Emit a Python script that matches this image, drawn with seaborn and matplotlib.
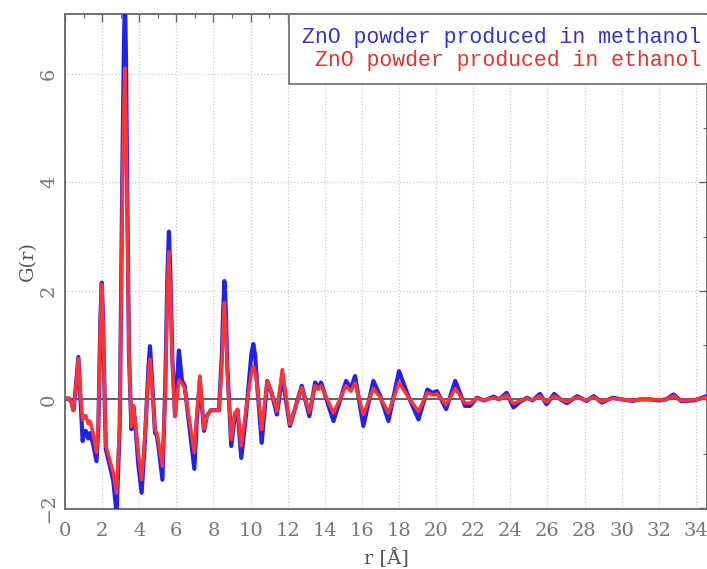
import matplotlib
matplotlib.use("Agg")
import matplotlib.pyplot as plt
import matplotlib.ticker as mticker
import seaborn as sns

# r values [Å]
r = [0.0, 0.2, 0.35, 0.45, 0.55, 0.72, 0.82, 0.95, 1.05, 1.12, 1.25, 1.35, 1.5, 1.7, 1.8,
     1.9, 1.98, 2.05, 2.1, 2.2, 2.4, 2.6, 2.78, 2.95, 3.1, 3.17, 3.23, 3.29, 3.35, 3.45,
     3.58, 3.68, 3.8, 3.95, 4.13, 4.3, 4.5, 4.58, 4.7, 4.85, 4.95, 5.05, 5.25, 5.4, 5.52,
     5.6, 5.68, 5.78, 5.93, 6.14, 6.3, 6.45, 6.6, 6.97, 7.1, 7.27, 7.35, 7.49, 7.65, 7.86,
     8.3, 8.45, 8.52, 8.59, 8.66, 8.75, 8.96, 9.15, 9.3, 9.5, 9.75, 10.05, 10.15, 10.25, 10.35,
     10.6, 10.9, 11.15, 11.42, 11.71, 12.12, 12.76, 13.17, 13.48, 13.65,
     13.8, 14.47, 15.15, 15.4, 15.63, 16.08, 16.62, 17.0, 17.43, 18.0, 18.5, 19.05, 19.53, 19.8,
     20.05, 20.54, 21.03, 21.56, 21.83, 22.2, 22.6, 23.1, 23.4, 23.8, 24.17, 24.5, 24.9, 25.2,
     25.6, 25.95, 26.36, 26.7, 27.05, 27.6, 28.1, 28.5, 28.93, 29.5, 30.0, 30.6, 31.0, 31.5,
     32.0, 32.4, 32.8, 33.2, 33.9, 34.6]

# G(r), ZnO powder produced in methanol
g_methanol = [0.0, 0.02, -0.05, -0.2, 0.1, 0.78, 0.1, -0.77, -0.6, -0.58, -0.72, -0.62, -0.8, -1.14, -0.5,
              1.4, 2.15, 1.5, 0.6, -0.92, -1.2, -1.5, -2.1, -0.5, 4.5, 6.4, 7.5, 6.2, 4.0, 0.8,
              -0.55, -0.12, -0.5, -1.2, -1.72, -0.8, 0.6, 0.98, 0.3, -0.62, -0.66, -0.9, -1.48, 0.2, 2.3,
              3.09, 2.3, 0.8, -0.31, 0.9, 0.35, 0.25, -0.2, -1.28, -0.4, 0.35, 0.0, -0.58, -0.3, -0.2,
              -0.2, 0.8, 1.6, 2.18, 1.7, 0.6, -0.86, -0.3, -0.2, -1.08, -0.3, 0.85, 1.02, 0.8, 0.3,
              -0.8, 0.34, 0.1, -0.28, 0.43, -0.49, 0.25, -0.31, 0.31, 0.22,
              0.31, -0.4, 0.34, 0.2, 0.43, -0.49, 0.34, 0.05, -0.4, 0.52, 0.06, -0.37, 0.18, 0.12,
              0.15, -0.18, 0.34, -0.12, -0.12, 0.03, -0.02, 0.05, 0.0, 0.12, -0.15, -0.05, 0.03, -0.02,
              0.1, -0.09, 0.1, 0.0, -0.07, 0.06, -0.03, 0.06, -0.06, 0.03, 0.0, -0.03, 0.0, 0.0,
              -0.02, 0.0, 0.09, -0.03, -0.02, 0.06]

# G(r), ZnO powder produced in ethanol
g_ethanol = [0.0, 0.02, -0.05, -0.2, 0.1, 0.75, 0.15, -0.38, -0.3, -0.3, -0.45, -0.4, -0.6, -0.98, -0.4,
             1.35, 2.12, 1.45, 0.6, -0.85, -1.1, -1.35, -1.73, -0.4, 4.0, 5.3, 6.1, 5.0, 3.5, 0.8,
             -0.5, -0.12, -0.45, -1.0, -1.48, -0.7, 0.45, 0.74, 0.2, -0.58, -0.62, -0.8, -1.23, 0.1, 2.0,
             2.72, 2.0, 0.7, -0.31, 0.35, 0.3, 0.2, -0.15, -0.98, -0.3, 0.43, 0.05, -0.55, -0.3, -0.2,
             -0.2, 0.6, 1.3, 1.78, 1.4, 0.5, -0.74, -0.25, -0.18, -0.86, -0.2, 0.5, 0.61, 0.5, 0.25,
             -0.56, 0.34, 0.1, -0.22, 0.55, -0.46, 0.22, -0.24, 0.25, 0.18,
             0.25, -0.25, 0.25, 0.15, 0.3, -0.28, 0.2, 0.03, -0.25, 0.31, 0.04, -0.22, 0.12, 0.08,
             0.1, -0.1, 0.2, -0.07, -0.07, 0.02, -0.01, 0.03, 0.0, 0.08, -0.08, -0.03, 0.02, -0.01,
             0.06, -0.05, 0.06, 0.0, -0.04, 0.04, -0.02, 0.04, -0.04, 0.02, 0.0, -0.02, 0.0, 0.0,
             -0.01, 0.0, 0.06, -0.02, -0.01, 0.04]

labels = ["ZnO powder produced in methanol", "ZnO powder produced in ethanol"]
x_ticks = list(range(0, 35, 2))
y_ticks = [-2, 0, 2, 4, 6]

assert len(r) == len(g_methanol) == len(g_ethanol)

sns.set_theme(style="white")
plt.rcParams["font.family"] = ["DejaVu Serif", "DejaVu Sans"]

fig = plt.figure(figsize=(7.07, 5.69), dpi=100)
ax_w = 1 - 65 / 707
ax = fig.add_axes([65 / 707, 1 - 509 / 569, ax_w, (509 - 14) / 569])

blue = "#2222ee"
red = "#ff3333"

ax.axhline(0, color="#555555", lw=1.3, zorder=1)
sns.lineplot(x=r, y=g_methanol, ax=ax, color=blue, lw=3.0, label=labels[0],
             solid_joinstyle="round", solid_capstyle="round", zorder=3)
sns.lineplot(x=r, y=g_ethanol, ax=ax, color=red, lw=2.5, label=labels[1],
             solid_joinstyle="round", solid_capstyle="round", zorder=4)

ax.set_xlim(0, 34.6)
ax.set_ylim(-2.02, 7.1)
ax.set_xticks(x_ticks)
ax.set_yticks(y_ticks)
ax.xaxis.set_minor_locator(mticker.MultipleLocator(1))
ax.yaxis.set_minor_locator(mticker.MultipleLocator(1))
ax.grid(True, which="major", color="#c8c8c8", linestyle=":", lw=0.9)
ax.tick_params(which="both", direction="in", top=True, right=True, colors="#666666",
               labelcolor="#777777", labelsize=14)
ax.tick_params(which="major", length=6, width=1)
ax.tick_params(axis="x", which="major", pad=9)
ax.tick_params(axis="y", which="major", pad=5)
ax.tick_params(which="minor", length=3, width=0.8)
for lab in ax.get_yticklabels():
    lab.set_rotation(90)
    lab.set_va("center")
for s in ax.spines.values():
    s.set_color("#666666")
    s.set_linewidth(1.3)

ax.set_xlabel("r [Å]", fontsize=14, color="#555555", labelpad=6)
ax.set_ylabel("G(r)", fontsize=14, color="#555555", labelpad=2)

leg = ax.legend(loc="upper right", bbox_to_anchor=(1 + 7 / 642, 1), borderaxespad=0,
                handlelength=0, handletextpad=0,
                markerfirst=False, fancybox=False, frameon=True, framealpha=1,
                edgecolor="#777777", borderpad=0.6, labelspacing=0.12,
                prop={"family": "Liberation Mono", "size": 15.5})
leg.get_frame().set_linewidth(1.3)
for h in leg.legend_handles:
    h.set_visible(False)
leg.get_texts()[0].set_color("#3333cc")
leg.get_texts()[1].set_color("#e03333")

fig.savefig("out.png", dpi=100)
